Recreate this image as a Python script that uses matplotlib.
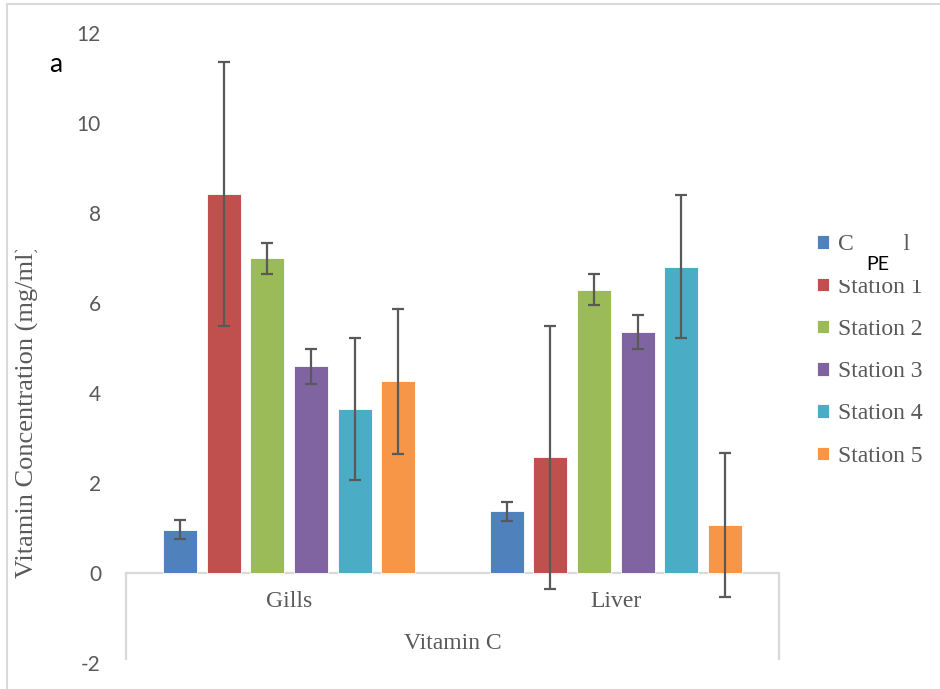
import numpy as np
import matplotlib
matplotlib.use("Agg")
import matplotlib.pyplot as plt
from matplotlib.lines import Line2D
from matplotlib.patches import Rectangle
from matplotlib.transforms import Bbox, TransformedBbox

plt.rcParams["axes.unicode_minus"] = False

organs = ["Gills", "Liver"]
stations = ["Control", "Station 1", "Station 2", "Station 3", "Station 4", "Station 5"]
colors = ["#4F81BD", "#C0504D", "#9BBB59", "#8064A2", "#4BACC6", "#F79646"]

# vitamin C means and error per station, [gills, liver]
means = [
    [0.96, 1.37],
    [8.43, 2.57],
    [6.99, 6.30],
    [4.59, 5.36],
    [3.64, 6.81],
    [4.26, 1.07],
]
errs = [
    [0.21, 0.21],
    [2.93, 2.93],
    [0.35, 0.35],
    [0.39, 0.38],
    [1.58, 1.58],
    [1.61, 1.60],
]

grey = "#595959"
light = "#D9D9D9"
serif = "Liberation Serif"
sans = "Lato"

fig = plt.figure(figsize=(9.4, 6.89), dpi=100)
ax = fig.add_axes([126/940, 1-663/689, (779-126)/940, (663-33)/689])

x = np.arange(len(organs))
w = 0.104
step = 0.1335
for i, st in enumerate(stations):
    xi = x + (i - 2.5)*step
    ax.bar(xi, means[i], w, color=colors[i], edgecolor="white", linewidth=0.6,
           label=st, zorder=2)
    ax.errorbar(xi, means[i], yerr=errs[i], fmt="none", ecolor=grey,
                elinewidth=1.6, capsize=4.5, capthick=1.6, zorder=3, clip_on=False)

ax.set_xlim(-0.5, 1.5)
ax.set_ylim(-2, 12)
ax.set_yticks(np.arange(-2, 13, 2))
ax.set_xticks([])
for s in ax.spines.values():
    s.set_visible(False)
ax.tick_params(axis="y", length=0, pad=18, labelsize=15, labelcolor=grey)
for t in ax.get_yticklabels():
    t.set_fontfamily(sans)

# category axis box
ax.plot([-0.5, 1.5], [0, 0], color=light, lw=1.6, zorder=1, clip_on=False)
ax.plot([-0.5, -0.5], [0, -1.91], color=light, lw=1.6, clip_on=False)
ax.plot([1.5, 1.5], [0, -1.91], color=light, lw=1.6, clip_on=False)
for xi, name in zip(x, organs):
    ax.text(xi, -0.64, name, ha="center", va="center", fontsize=17,
            family=serif, color=grey)
ax.text(0.5, -1.56, "Vitamin C", ha="center", va="center", fontsize=17,
        family=serif, color=grey)

leg = ax.legend(loc="upper left", bbox_to_anchor=(808/940, 1-225/689),
                bbox_transform=fig.transFigure, frameon=False,
                prop={"family": serif, "size": 17}, labelcolor=grey,
                handlelength=0.5, handleheight=0.5, handletextpad=0.38,
                labelspacing=0.9, borderaxespad=0)

# y label, cut off at the top
ylab = fig.text(27/940, 1-578/689, "Vitamin Concentration (mg/ml)", rotation=90,
                ha="center", va="bottom", fontsize=19, family=serif, color=grey)
ylab.set_clip_box(TransformedBbox(Bbox([[0, 0], [0.1, 1-250/689]]), fig.transFigure))

fig.text(49/940, 1-65/689, "a", ha="left", va="center", fontsize=19, family=sans,
         color="black")

# PE label sitting over the top of the legend
for x0, y0, x1, y1 in [(853, 232, 903, 280), (836, 255, 940, 280)]:
    fig.add_artist(Rectangle((x0/940, 1-y1/689), (x1-x0)/940, (y1-y0)/689,
                             transform=fig.transFigure, facecolor="white",
                             edgecolor="none", zorder=5))
fig.text(878/940, 1-265/689, "PE", ha="center", va="center", fontsize=14,
         family=sans, color="black", zorder=6)

# outer chart border
fig.add_artist(Line2D([7/940, 1], [1-4/689, 1-4/689], transform=fig.transFigure,
                      color=light, lw=1.5))
fig.add_artist(Line2D([7/940, 7/940], [0, 1-4/689], transform=fig.transFigure,
                      color=light, lw=1.5))

fig.savefig("out.png", dpi=100)
